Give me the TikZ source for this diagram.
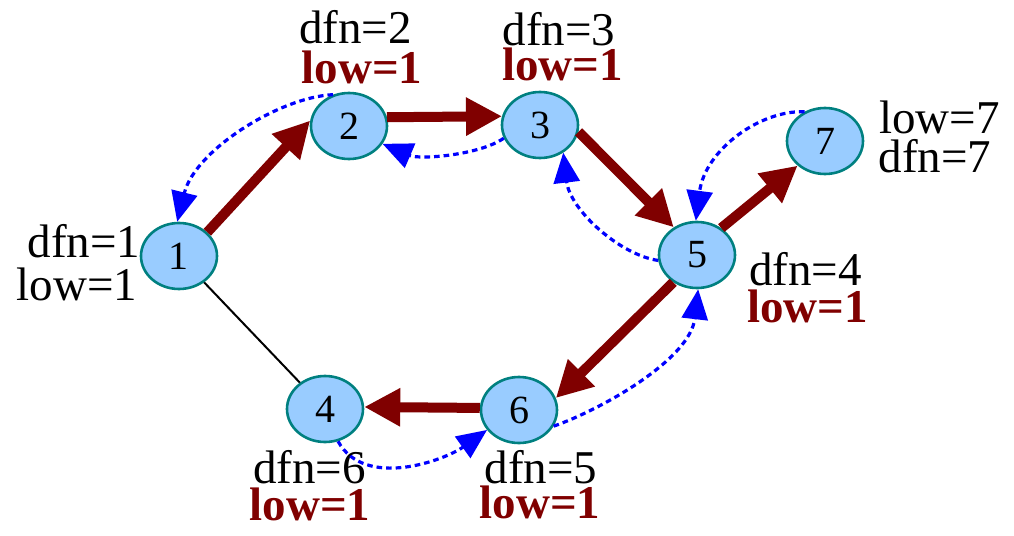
\documentclass[tikz,border=0pt]{standalone}
\usepackage{fontspec}
\setmainfont{Liberation Serif}
\usetikzlibrary{arrows.meta,shapes.geometric}
\definecolor{nodefill}{RGB}{153,204,255}
\definecolor{nodeedge}{RGB}{0,128,128}
\definecolor{treered}{RGB}{128,0,0}
\tikzset{
  vtx/.style={ellipse,draw=nodeedge,fill=nodefill,line width=1.3pt,minimum width=38pt,minimum height=33pt,inner sep=0pt,font=\fontsize{20}{22}\selectfont},
  tree/.style={draw=treered,line width=5pt,-{Triangle[length=18pt,width=18pt]}},
  back/.style={draw=blue,line width=1.6pt,dash pattern=on 2.8pt off 2pt,-{Triangle[length=15pt,width=13pt]}},
  plain/.style={draw=black,line width=1pt},
  lab/.style={anchor=base,inner sep=0pt,font=\fontsize{23.5}{28}\selectfont},
  lowlab/.style={lab,text=treered,font=\fontsize{23.5}{28}\selectfont\bfseries}
}
\begin{document}
\begin{tikzpicture}[x=0.5pt,y=-0.5pt]
\useasboundingbox (0,0) rectangle (1014,536);
% vertices
\node[vtx] (n1) at (179,256) {1};
\node[vtx] (n2) at (349,126) {2};
\node[vtx] (n3) at (540,125) {3};
\node[vtx] (n5) at (697,255) {5};
\node[vtx] (n7) at (825,141) {7};
\node[vtx] (n4) at (325,409) {4};
\node[vtx] (n6) at (519,410) {6};
% labels
\node[lab] (d2) at (355.5,43) {dfn=2};
\node[lowlab] (l2) at (362,83) {low=1};
\node[lab] (d3) at (559,45) {dfn=3};
\node[lowlab] (l3) at (562.5,80) {low=1};
\node[lab] (d1) at (84,257) {dfn=1};
\node[lab] (l1) at (77,300) {low=1};
\node[lab] (l7) at (939.5,133) {low=7};
\node[lab] (d7) at (935,172) {dfn=7};
\node[lab] (d4) at (805.5,285) {dfn=4};
\node[lowlab] (l4) at (807.5,322) {low=1};
\node[lab] (d6) at (309.5,483) {dfn=6};
\node[lowlab] (l6) at (310,520) {low=1};
\node[lab] (d5) at (541,483) {dfn=5};
\node[lowlab] (l5) at (540,518) {low=1};
% plain edge
\draw[plain] (n1) -- (n4);
% tree edges
\draw[tree] (n1.40) -- (n2.172);
\draw[tree] (n2.13) -- (n3.167);
\draw[tree] (n3.-10) -- (n5.130);
\draw[tree] (n5.48) -- (n7.222);
\draw[tree] (n5.229) -- (n6.18);
\draw[tree] (n6.177) -- (n4.3);
% back edges
\draw[back] (n2.117) .. controls (280,97) and (195,150) .. (n1.93);
\draw[back] (n3.200) .. controls (480,155) and (420,160) .. (n2.-28);
\draw[back] (n5.188) .. controls (620,255) and (570,210) .. (n3.-50);
\draw[back] (n7.125) .. controls (760,110) and (705,150) .. (n5.92);
\draw[back] (n6.-25) .. controls (600,410) and (690,360) .. (n5.-88);
\draw[back] (n4.-68) .. controls (365,490) and (445,460) .. (n6.212);
\end{tikzpicture}
\end{document}
